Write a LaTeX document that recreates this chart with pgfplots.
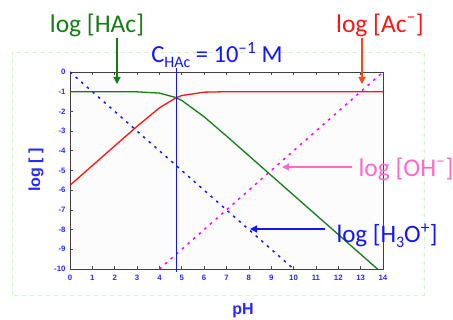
\documentclass[border=0pt]{standalone}
\usepackage{fontspec}
\setmainfont{Carlito}
\newfontfamily\arialfont{Liberation Sans}
\usepackage{pgfplots}
\pgfplotsset{compat=1.18}
\usetikzlibrary{arrows.meta}
\definecolor{cgreen}{RGB}{20,125,20}
\definecolor{cred}{RGB}{255,20,20}
\definecolor{cblue}{RGB}{20,20,255}
\definecolor{tblue}{RGB}{40,40,255}
\definecolor{cpink}{RGB}{255,105,200}
\definecolor{cmag}{RGB}{255,0,255}
\definecolor{corange}{RGB}{255,70,20}
\definecolor{boxgreen}{RGB}{200,250,200}
\begin{document}
\begin{tikzpicture}[x=1pt,y=1pt]
\path[use as bounding box] (0,0) rectangle (453,320);
\draw[boxgreen, dashed, dash pattern=on 4pt off 4pt, line width=0.8pt] (12,25) rectangle (424,268);
\begin{axis}[
  at={(70pt,51pt)}, anchor=south west,
  scale only axis, width=313pt, height=197pt,
  xmin=0, xmax=14, ymin=-10, ymax=0,
  xtick={0,...,14}, ytick={-10,...,0},
  yticklabels={-10,-9,-8,-7,-6,-5,-4,-3,-2,-1,0},
  xticklabel style={font=\arialfont\bfseries\fontsize{7.8}{9}\selectfont, color=tblue, yshift=-3pt},
  yticklabel style={font=\arialfont\bfseries\fontsize{7.8}{9}\selectfont, color=tblue, xshift=-1pt},
  /pgf/number format/assume math mode=true,
  xtick pos=both, ytick pos=left,
  major tick length=3pt,
  tick style={black!70, line width=0.6pt},
  axis line style={black!75, line width=0.9pt},
  axis background/.style={fill=black!1},
  clip mode=individual,
]
% H3O+
\addplot[cblue, line width=1.5pt, dash pattern=on 2.5pt off 5pt, forget plot] coordinates {(0,0) (10,-10)};
% OH-
\addplot[cmag, line width=1.5pt, dash pattern=on 2.5pt off 5pt, forget plot] coordinates {(4,-10) (14,0)};
% HAc
\addplot[cgreen, line width=1.3pt, forget plot] coordinates {
(0,-1.000) (1,-1.000) (2,-1.001) (3,-1.008) (4,-1.071) (4.75,-1.301) (5,-1.444)
(6,-2.274) (7,-3.252) (8,-4.250) (9,-5.250) (10,-6.250) (11,-7.250) (12,-8.250) (13,-9.250) (14,-10.250)};
% Ac-
\addplot[cred, line width=1.3pt, forget plot] coordinates {
(0,-5.750) (1,-4.750) (2,-3.751) (3,-2.758) (4,-1.821) (4.75,-1.301) (5,-1.194)
(6,-1.024) (7,-1.002) (8,-1.000) (9,-1.000) (10,-1.000) (11,-1.000) (12,-1.000) (13,-1.000) (14,-1.000)};
% pKa line
\addplot[cblue, line width=1.3pt, forget plot, clip=false] coordinates {(4.75,0.2) (4.75,-10.15)};
\end{axis}
% axis labels
\node[text=tblue, font=\arialfont\bfseries\fontsize{16}{18}\selectfont, rotate=90] at (36,150) {log [ ]};
\node[text=tblue, font=\arialfont\bfseries\fontsize{16}{18}\selectfont] at (243,9) {pH};
% annotations
\node[text=cgreen, font=\fontsize{25.5}{30}\selectfont] at (97,295) {log [HAc]};
\draw[cgreen, line width=1.1pt, -{Triangle[length=7pt,width=7pt]}] (117,282) -- (117,236);
\node[text=cred, font=\fontsize{25.5}{30}\selectfont] at (380,295) {log [Ac\textsuperscript{–}]};
\draw[corange, line width=1.1pt, -{Triangle[length=7pt,width=7pt]}] (362,282) -- (362,236);
\node[text=cblue, font=\fontsize{24.5}{28}\selectfont] at (217,265) {C\raisebox{-0.45ex}{\fontsize{16}{17}\selectfont HAc} = 10\textsuperscript{–1} M};
\node[text=cpink, font=\fontsize{25.5}{30}\selectfont, anchor=west] at (355,151) {log [OH\textsuperscript{–}]};
\draw[cpink, line width=1.1pt, -{Triangle[length=7pt,width=7pt]}] (352,153) -- (282,153);
\node[text=cblue, font=\fontsize{25}{30}\selectfont, anchor=west] at (333,84) {log [H\raisebox{-0.4ex}{\fontsize{16}{17}\selectfont 3}O\textsuperscript{+}]};
\draw[cblue, line width=1.1pt, -{Triangle[length=7pt,width=7pt]}] (325,91) -- (250,91);
\end{tikzpicture}
\end{document}
